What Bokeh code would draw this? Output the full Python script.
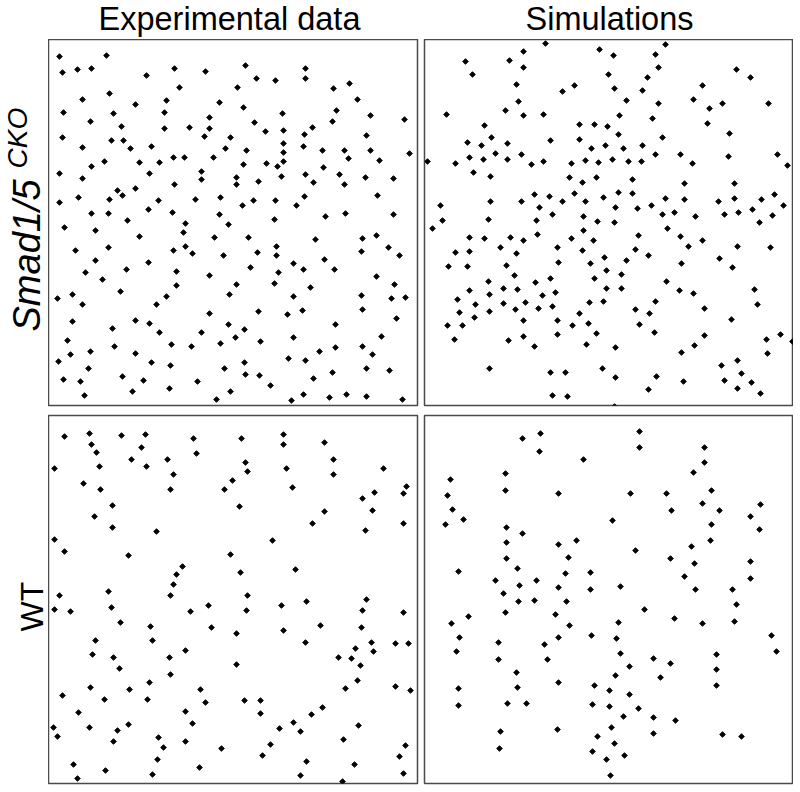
import math
from bokeh.plotting import figure
from bokeh.models import Range1d, Label, ColumnDataSource
from bokeh.layouts import column, row
from bokeh.embed import file_html
from bokeh.resources import INLINE

# ---------------- data (positions, in picture pixels) ----------------
col_titles = ["Experimental data", "Simulations"]
row_label_cko = "Smad1/5"
row_label_cko_sup = "CKO"
row_label_wt = "WT"

exp_cko_x = [59,62,77,91,106,146,174,205,245,256,275,305,305,179,237,333,349,82,109,166,
             135,219,357,243,63,113,164,209,282,336,370,404,90,121,164,189,209,254,265,283,
             312,332,62,111,123,204,230,304,366,82,130,151,225,246,283,303,322,344,370,283,
             409,173,184,213,348,
             91,104,139,159,243,266,277,283,323,379,59,82,149,201,201,236,236,258,281,305,
             313,339,344,365,393,174,117,122,135,59,78,109,158,195,220,242,253,275,296,304,
             377,91,108,148,172,219,274,325,345,393,64,95,127,185,228,183,139,214,248,315,
             362,376,75,108,173,185,192,223,257,276,276,361,388,399,95,148,293,324,85,126,
             176,250,278,303,334,209,376,102,
             176,236,274,310,394,57,72,82,120,156,166,229,293,361,391,405,362,72,135,149,
             209,258,287,302,396,112,159,201,228,244,335,67,114,171,191,220,235,260,293,381,
             70,90,135,319,335,362,372,58,151,170,244,288,305,88,224,245,259,332,366,389,
             63,80,122,143,197,313,270,84,132,169,230,303,329,346,366,216,291,402]
exp_cko_y = [56,72,69,68,55,75,68,71,65,78,80,68,78,87,87,88,83,99,93,100,
             104,102,99,107,112,113,112,117,113,110,115,119,121,126,128,127,128,122,131,130,
             127,121,137,140,140,136,137,134,135,147,148,146,148,150,143,146,150,150,150,152,
             153,157,157,157,158,
             166,161,162,162,164,163,166,161,167,160,173,178,173,171,179,177,184,181,176,174,
             182,174,184,177,178,184,190,195,188,202,197,199,200,199,197,205,200,200,205,196,
             195,213,213,209,212,214,219,216,213,214,227,230,220,223,224,232,236,237,237,239,
             238,235,250,247,250,246,253,255,252,246,255,251,247,255,260,262,263,259,272,269,
             271,267,272,269,269,275,276,279,
             285,284,283,287,284,298,294,304,291,304,296,294,296,295,298,297,309,321,320,323,
             313,311,314,310,318,328,332,332,324,329,324,340,346,344,346,343,337,341,337,336,
             354,351,353,351,347,346,354,361,362,365,362,358,360,368,368,374,375,372,368,370,
             379,381,376,380,381,378,385,395,391,388,391,394,397,394,396,399,400,399]

sim_cko_x = [545,523,599,665,465,509,523,613,655,658,472,608,647,736,750,516,562,574,614,642,
             702,518,626,658,693,709,722,768,446,505,523,543,619,652,484,579,594,607,707,491,
             467,481,507,550,579,618,662,729,495,521,591,605,623,642,655,680,728,777,469,427,
             483,507,543,585,612,628,641,455,531,571,598,692,787,473,490,569,582,596,632,684,
             734,490,521,534,549,562,574,585,603,618,632,665,684,718,734,761,774,440,539,615,
             637,651,662,674,724,738,752,783,442,488,536,552,583,597,614,695,772,759,432,583,
             667,469,484,510,523,537,571,593,638,680,702,500,557,582,635,688,737,770,455,469,
             516,604,648,719,448,467,506,558,590,626,681,732,514,606,621,550,594,488,535,666,
             469,489,503,517,542,555,606,621,679,693,754,457,475,503,525,589,603,655,757,459,
             474,489,515,538,552,579,635,649,704,447,462,523,557,572,588,639,731,454,508,523,
             534,557,586,596,615,654,704,694,681,766,780,792,767,489,550,565,602,615,656,683,
             648,721,737,741,724,751,737,760,552,567,614]
sim_cko_y = [43,51,49,44,61,60,67,55,54,67,74,74,77,69,77,84,91,85,88,90,
             85,101,100,103,99,108,103,103,114,110,115,114,115,118,125,124,124,126,123,137,
             142,145,143,140,139,134,137,133,153,154,148,145,148,145,154,154,156,154,157,161,
             159,159,161,160,159,161,161,163,164,163,162,163,165,172,176,177,182,177,179,183,
             183,201,201,194,196,201,193,201,197,192,193,198,199,201,198,199,194,205,207,207,
             208,205,214,212,214,212,209,205,220,219,220,214,216,221,222,216,215,222,228,230,
             228,237,238,237,240,234,238,240,235,236,240,247,247,250,249,246,246,247,252,251,
             253,257,255,258,266,266,265,262,263,260,263,267,275,270,274,278,278,281,282,281,
             290,294,288,289,295,292,288,288,290,293,289,299,304,303,302,302,301,301,304,312,
             317,311,309,308,306,313,309,313,308,325,325,320,320,325,323,324,319,339,340,336,
             346,334,344,333,347,332,335,345,352,339,334,341,353,368,372,372,368,377,376,381,
             389,365,360,373,380,382,388,393,395,396,406]

exp_wt_x = [64,89,121,145,193,241,283,91,141,283,324,96,196,131,167,333,245,54,99,146,
            286,383,247,173,333,232,83,100,170,224,292,406,374,403,362,112,239,372,324,94,
            112,312,403,156,365,54,272,64,128,230,182,295,176,240,173,59,108,170,247,366,
            306,54,70,111,190,208,246,281,362,403,120,150,211,236,283,320,361,95,152,305,
            371,395,408,185,355,373,92,113,169,338,351,236,360,119,170,357,149,90,129,200,
            345,395,410,62,104,147,205,244,260,322,78,185,260,311,293,192,128,358,53,89,
            117,279,300,57,158,113,185,343,270,163,221,405,262,399,157,306,73,354,105,199,
            152,300,403,77,342]
exp_wt_y = [436,433,435,434,438,438,434,444,447,444,442,452,453,459,459,459,462,468,466,466,
            468,468,471,474,474,480,483,489,489,489,487,486,492,493,498,505,506,510,511,516,
            527,523,523,531,530,539,540,551,555,554,566,569,574,572,584,595,591,595,595,599,
            601,609,611,607,611,605,610,605,610,612,622,626,627,633,630,625,627,640,640,642,
            642,643,643,650,648,651,654,657,657,657,658,664,665,668,674,680,682,687,689,689,
            688,686,690,695,699,699,702,700,700,707,712,711,713,714,722,723,724,725,727,727,
            730,728,731,736,737,741,741,739,744,747,748,745,755,756,759,761,764,764,770,767,
            774,775,773,778,781]

sim_wt_x = [639,540,522,639,704,539,583,704,693,505,450,505,711,447,558,630,666,702,760,452,
            671,719,750,463,612,445,711,506,759,522,506,558,576,635,691,710,506,568,670,694,
            750,458,517,565,590,684,750,495,536,519,558,590,620,695,732,503,518,534,566,736,
            644,505,555,468,451,569,618,674,702,734,459,498,544,558,591,616,771,456,620,716,
            776,498,547,653,670,629,716,516,615,660,558,458,517,594,609,716,629,458,507,526,
            592,609,638,623,653,675,611,500,557,653,722,741,597,614,499,592,624,606,610]
sim_wt_y = [431,433,438,447,447,451,459,462,472,473,479,490,490,495,493,493,493,503,504,509,
            510,510,516,519,520,524,524,527,529,533,542,544,540,550,546,540,558,557,558,563,
            561,571,568,573,572,576,578,580,580,585,587,589,586,589,589,593,601,600,601,604,
            609,612,614,616,623,625,622,618,623,621,637,642,644,637,635,638,635,651,653,654,
            651,659,659,658,663,666,669,672,675,677,682,688,687,685,690,685,694,705,703,703,
            704,706,708,716,717,720,727,731,729,733,734,736,736,743,748,751,755,759,775]

FONT = "Liberation Sans"


def base(width, height, xr, yr, borders=(0, 0, 0, 0)):
    left, right, top, bottom = borders
    p = figure(frame_width=width, frame_height=height,
               x_range=Range1d(*xr), y_range=Range1d(*yr),
               min_border_left=left, min_border_right=right,
               min_border_top=top, min_border_bottom=bottom,
               x_axis_location=None, y_axis_location=None,
               output_backend="svg", toolbar_location=None)
    p.grid.visible = False
    p.outline_line_color = None
    p.background_fill_color = "white"
    p.border_fill_color = "white"
    return p


def panel(xs, ys, xr, yr, borders):
    p = base(xr[1] - xr[0], yr[0] - yr[1], xr, yr, borders)
    p.outline_line_color = "#4a4a4a"
    p.outline_line_width = 1.5
    src = ColumnDataSource(dict(x=xs, y=ys))
    p.scatter("x", "y", source=src, marker="square", angle=math.pi / 4, size=4,
              fill_color="black", line_color="black", line_width=0.9)
    return p


def text_label(text, x, y, size, angle=0.0, align="center", italic=False):
    return Label(x=x, y=y, text=text, angle=angle, text_align=align,
                 text_baseline="middle", text_font=FONT, text_font_size=size,
                 text_font_style="italic" if italic else "normal", text_color="black")


# top strip with the column titles (x 0..793, y 0..39)
top = base(793, 39, (0, 793), (39, 0))
top.add_layout(text_label(col_titles[0], 229, 18, "32.5px"))
top.add_layout(text_label(col_titles[1], 609, 18, "32.5px"))

# left strips with the row labels
left1 = base(48, 370, (0, 48), (409, 39))
left1.add_layout(text_label(row_label_cko, 26, 331, "38px", angle=math.pi / 2, align="left", italic=True))
left1.add_layout(text_label(row_label_cko_sup, 17, 168, "28px", angle=math.pi / 2, align="left", italic=True))
left2 = base(48, 376, (0, 48), (785, 409))
left2.add_layout(text_label(row_label_wt, 31, 600, "32px", angle=math.pi / 2))

f1 = panel(exp_cko_x, exp_cko_y, (48, 417), (405, 39), (0, 3, 0, 4))
f2 = panel(sim_cko_x, sim_cko_y, (424, 793), (405, 39), (4, 0, 0, 4))
f3 = panel(exp_wt_x, exp_wt_y, (48, 417), (783, 415), (0, 3, 6, 2))
f4 = panel(sim_wt_x, sim_wt_y, (424, 793), (783, 415), (4, 0, 6, 2))

layout = column(top, row(left1, f1, f2), row(left2, f3, f4))

with open("out.html", "w") as fh:
    fh.write(file_html(layout, INLINE))
